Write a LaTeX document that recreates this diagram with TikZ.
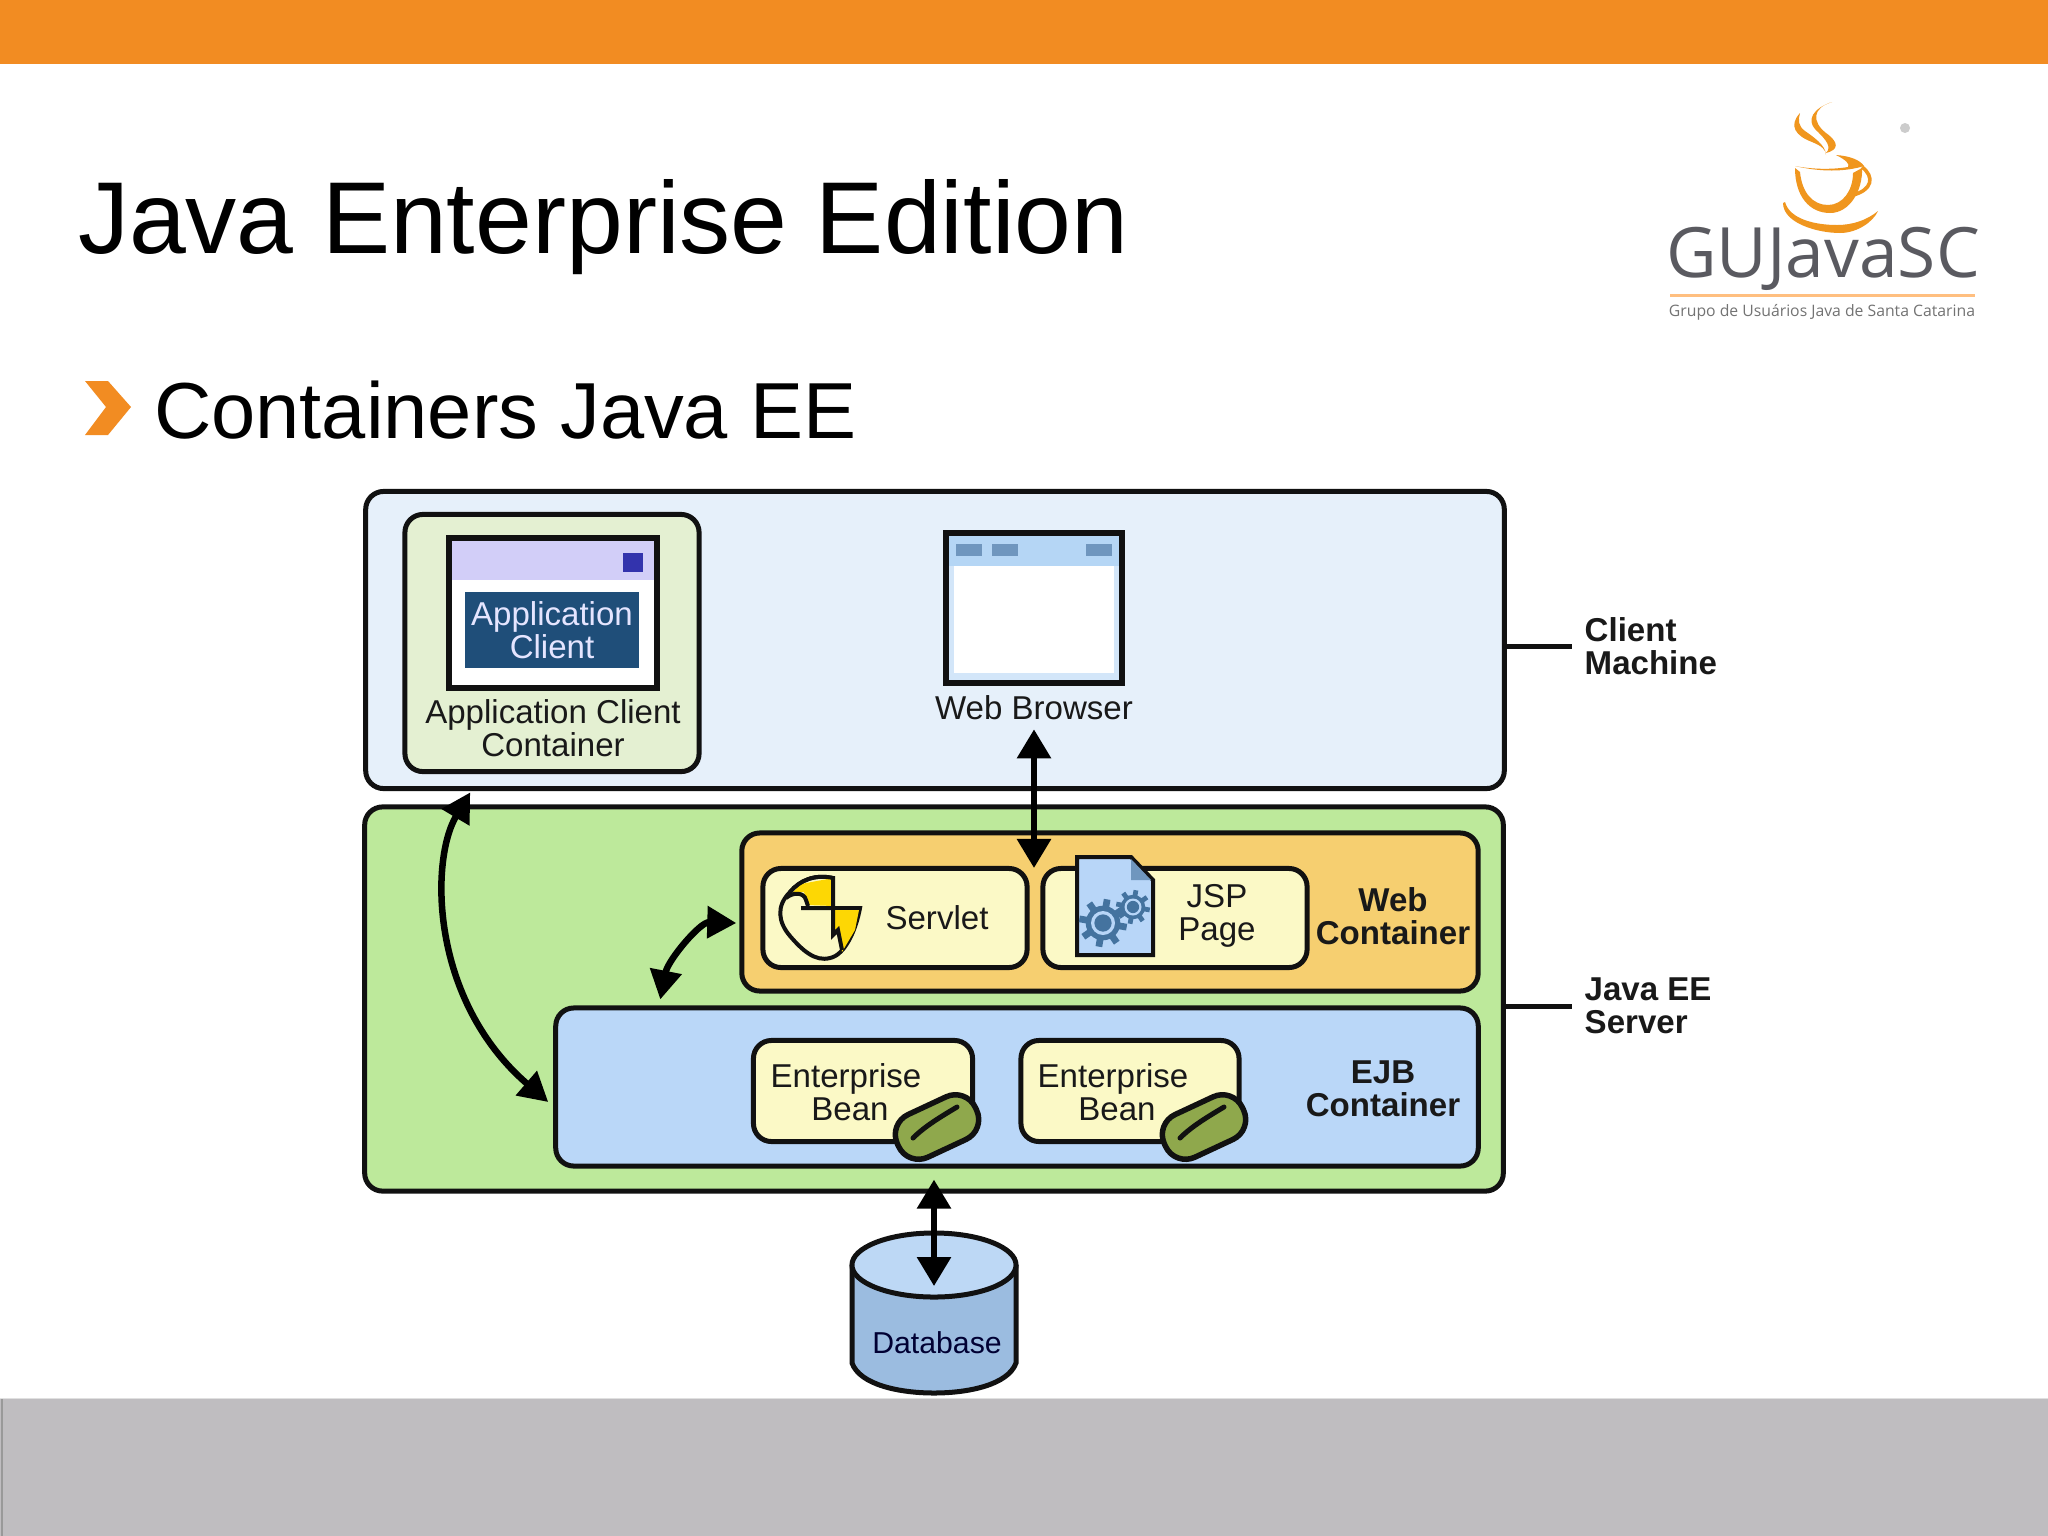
\documentclass[tikz,border=0pt]{standalone}
\usepackage{fontspec}
\setmainfont{Liberation Sans}
\newfontfamily\logofont{Open Sans}
\usetikzlibrary{arrows.meta,shapes.geometric}
\definecolor{orangebar}{HTML}{F28C22}
\definecolor{footgray}{HTML}{BFBDC0}
\definecolor{clientfill}{HTML}{E6F0FA}
\definecolor{acfill}{HTML}{E4F0D2}
\definecolor{eefill}{HTML}{BDE99B}
\definecolor{webfill}{HTML}{F6CF70}
\definecolor{creamfill}{HTML}{FBF9C6}
\definecolor{ejbfill}{HTML}{BAD7F8}
\definecolor{beanfill}{HTML}{8FA84C}
\definecolor{dbside}{HTML}{9BBCE0}
\definecolor{dbtop}{HTML}{BDD8F5}
\definecolor{lineblack}{HTML}{111111}
\definecolor{lilac}{HTML}{D2CEF8}
\definecolor{navy}{HTML}{1F4E79}
\definecolor{gearblue}{HTML}{44739F}
\definecolor{docfill}{HTML}{B8D6F8}
\definecolor{barblue}{HTML}{B5D6F5}
\definecolor{tabblue}{HTML}{6F96BE}
\definecolor{logogray}{HTML}{5A5A60}
\definecolor{cupor}{HTML}{F0961E}
\tikzset{
  x=0.01cm,y=-0.01cm,
  bx/.style={draw=lineblack,line width=0.05cm,rounded corners=0.18cm,inner sep=0pt},
  flat/.style={inner sep=0pt,outer sep=0pt},
  lbl/.style={font=\fontsize{9.4pt}{9.4pt}\selectfont,align=center,text=black!90,inner sep=0.03cm},
  blbl/.style={lbl,font=\fontsize{9.4pt}{9.4pt}\bfseries\selectfont},
  lead/.style={draw=lineblack,line width=0.05cm},
  dbl/.style={draw=black,line width=0.06cm,{Triangle[width=0.33cm,length=0.29cm]}-{Triangle[width=0.33cm,length=0.29cm]}},
  curv/.style={draw=black,line width=0.065cm,{Triangle[width=0.31cm,length=0.29cm]}-{Triangle[width=0.31cm,length=0.29cm]}},
  pill/.style={draw=lineblack,line width=0.055cm,fill=beanfill,rounded corners=0.22cm,minimum width=0.86cm,minimum height=0.47cm,rotate=25,inner sep=0pt},
}
\newcommand{\gearat}[3]{%
  \foreach \ga in {0,45,...,315}{
    \draw[gearblue,line width=#3*0.0028cm,shift={(#1,#2)}] (\ga+10:#3*0.6) -- (\ga+10:#3);
  }
  \fill[gearblue] (#1,#2) circle[radius=#3*0.72*0.01cm];
  \fill[docfill] (#1,#2) circle[radius=#3*0.5*0.01cm];
  \fill[gearblue] (#1,#2) circle[radius=#3*0.36*0.01cm];
}
\begin{document}
\begin{tikzpicture}
\useasboundingbox (0,0) rectangle (2048,1536);
\fill[white] (0,0) rectangle (2048,1536);
\fill[orangebar] (0,0) rectangle (2048,64);
\fill[footgray] (0,1399) rectangle (2048,1536);
\fill[black!40] (1,1399) rectangle (3,1536);
\fill[black!12] (0,1397.5) rectangle (2048,1399);
\node[flat,anchor=base west,font=\fontsize{29.05pt}{29pt}\selectfont,text=black] (title) at (78,253) {Java Enterprise Edition};
\fill[orangebar] (85,381) -- (108,381) -- (131,407) -- (108,435) -- (85,435) -- (106,407) -- cycle;
\node[flat,anchor=base west,font=\fontsize{22.6pt}{22.6pt}\selectfont,text=black] (sub) at (154,438) {Containers Java EE};
% logo
\fill[cupor] (1832,102) .. controls (1812,108) and (1812,122) .. (1826,133) .. controls (1840,143) and (1838,150) .. (1826,153) .. controls (1832,147) and (1826,140) .. (1818,132) .. controls (1804,120) and (1814,108) .. (1832,102) -- cycle;
\fill[cupor] (1800,113) .. controls (1788,126) and (1796,136) .. (1812,142) .. controls (1822,146) and (1826,150) .. (1826,155) .. controls (1826,145) and (1812,136) .. (1805,131) .. controls (1798,126) and (1798,120) .. (1800,113) -- cycle;
\fill[cupor] (1795,168) .. controls (1795,197) and (1810,213) .. (1830,213) .. controls (1850,213) and (1863,190) .. (1862,168) -- (1853,173) .. controls (1853,190) and (1843,205) .. (1828,205) .. controls (1813,205) and (1802,193) .. (1800,172) -- cycle;
\fill[cupor] (1795,166) .. controls (1820,172) and (1845,172) .. (1864,166) .. controls (1860,160) and (1850,156) .. (1836,155) .. controls (1846,160) and (1850,164) .. (1848,167) .. controls (1830,170) and (1810,169) .. (1795,166) -- cycle;
\draw[cupor,line width=0.036cm] (1862,167) .. controls (1875,177) and (1872,190) .. (1853,195);
\fill[cupor] (1783,203) .. controls (1783,223) and (1817,233) .. (1840,233) .. controls (1857,233) and (1873,222) .. (1878,211) .. controls (1867,220) and (1853,225) .. (1837,225) .. controls (1817,225) and (1790,220) .. (1785,202) -- cycle;
\fill[black!20] (1905,128) circle[radius=0.05cm];
\node[flat,font=\logofont\fontsize{19.75pt}{19.75pt}\selectfont,text=logogray,anchor=base] (logotxt) at (1823,277) {GUJavaSC};
\fill[orange!50!white] (1670,294) rectangle (1975,296.5);
\node[flat,font=\logofont\fontsize{4.48pt}{4.48pt}\selectfont,text=black!55,anchor=center] (logosub) at (1822,312) {Grupo de Usuários Java de Santa Catarina};
% client machine
\node[bx,fill=clientfill,minimum width=11.38cm,minimum height=2.97cm] (client) at (935,640) {};
\node[bx,fill=acfill,minimum width=2.94cm,minimum height=2.57cm] (acc) at (552,643) {};
\node[draw=lineblack,line width=0.06cm,fill=white,minimum width=2.07cm,minimum height=1.49cm,inner sep=0pt] (appwin) at (553,613) {};
\fill[lilac] (452,541) rectangle (654,580);
\fill[blue!60!black!80!white] (623,553) rectangle (643,572);
\node[flat,fill=navy,minimum width=1.73cm,minimum height=0.75cm,font=\fontsize{9.4pt}{9.4pt}\selectfont,align=center,text=blue!10!white] (appcl) at (552,630) {Application\\Client};
\node[lbl] (acclab) at (553,728) {Application Client\\Container};
\node[draw=lineblack,line width=0.06cm,fill=barblue!60!white,minimum width=1.76cm,minimum height=1.49cm,inner sep=0pt] (brow) at (1034,608) {};
\fill[white] (954,566) rectangle (1114,673);
\fill[barblue] (949,536) rectangle (1119,566);
\fill[tabblue] (956,544) rectangle (982,556);
\fill[tabblue] (992,544) rectangle (1018,556);
\fill[tabblue] (1086,544) rectangle (1112,556);
\node[lbl] (wb) at (1034,708) {Web Browser};
\node[blbl,align=left,anchor=west,inner sep=0pt] (cmlab) at (1584,646) {Client\\Machine};
% java ee server
\node[bx,fill=eefill,minimum width=11.38cm,minimum height=3.84cm] (ee) at (934,999) {};
\node[bx,fill=webfill,minimum width=7.36cm,minimum height=1.58cm] (web) at (1110,912) {};
\node[bx,fill=creamfill,minimum width=2.64cm,minimum height=0.99cm] (servlet) at (895,918) {};
\node[bx,fill=creamfill,minimum width=2.64cm,minimum height=0.99cm] (jsp) at (1175,918) {};
\node[bx,fill=ejbfill,minimum width=9.22cm,minimum height=1.58cm] (ejb) at (1017,1087) {};
\node[bx,fill=creamfill,minimum width=2.19cm,minimum height=1.01cm] (bean1) at (863,1091) {};
\node[bx,fill=creamfill,minimum width=2.18cm,minimum height=1.01cm] (bean2) at (1130,1091) {};
\node[pill] (pill1) at (937,1127) {};
\draw[lineblack,line width=0.05cm,line cap=round] (913,1138) .. controls (925,1126) and (942,1116) .. (957,1107);
\node[pill] (pill2) at (1204,1127) {};
\draw[lineblack,line width=0.05cm,line cap=round] (1180,1138) .. controls (1192,1126) and (1209,1116) .. (1224,1107);
\node[lbl] (b1t) at (846,1092) {Enterprise\\\hspace*{0.08cm}Bean};
\node[lbl] (b2t) at (1113,1092) {Enterprise\\\hspace*{0.08cm}Bean};
\node[blbl] (ejbt) at (1383,1089) {EJB\\Container};
\node[blbl] (webt) at (1393,916) {Web\\Container};
\node[lbl] (servt) at (937,918) {Servlet};
\node[lbl] (jspt) at (1217,915.5) {JSP\\Page};
\node[blbl,align=left,anchor=west,inner sep=0pt] (eelab) at (1584,1006) {Java EE\\Server};
% servlet icon
\draw[lineblack,line width=0.04cm,fill=creamfill] (833,878) .. controls (815,874) and (800,880) .. (790,892) .. controls (776,906) and (778,922) .. (790,936) .. controls (802,950) and (815,962) .. (830,958) .. controls (845,955) and (856,930) .. (860,908) -- (801,908);
\fill[yellow!75!orange] (801,884) -- (833,878) -- (833,906) -- (808,905) -- (804,892) -- (792,893) -- cycle;
\fill[yellow!75!orange] (835,910) -- (859,910) -- (855,930) -- (842,952) -- (840,935) -- (835,930) -- cycle;
\draw[lineblack,line width=0.04cm] (833,876) -- (833,935) -- (838,930) -- (842,950);
\draw[lineblack,line width=0.04cm] (801,908) -- (860,908);
\draw[lineblack,line width=0.04cm] (786,898) .. controls (793,892) and (804,892) .. (806,900) -- (808,906);
\draw[lineblack,line width=0.04cm] (833,878) .. controls (815,874) and (800,880) .. (790,892);
% jsp icon
\draw[lineblack,line width=0.04cm,fill=docfill] (1077,857) -- (1131,857) -- (1153,880) -- (1153,955) -- (1077,955) -- cycle;
\fill[tabblue] (1131,859) -- (1151,880) -- (1131,880) -- cycle;
\gearat{1103}{923}{24}
\gearat{1133}{907}{17}
% database
\node[flat,minimum width=1.64cm,minimum height=0.10cm] (db) at (934,1265) {};
\draw[lineblack,line width=0.05cm,fill=dbside] (852,1265) -- (852,1363) .. controls (860,1385) and (900,1393) .. (934,1393) .. controls (968,1393) and (1008,1385) .. (1016,1363) -- (1016,1265);
\draw[lineblack,line width=0.05cm,fill=dbtop] (934,1265) ellipse[x radius=0.82cm,y radius=0.32cm];
\node[lbl,text=black!80!blue,font=\fontsize{8.6pt}{8.6pt}\selectfont] (dbt) at (937,1343) {Database};
% connectors
\draw[lead,shorten >=0.12cm] (client.east |- cmlab.west) -- (cmlab.west);
\draw[lead,shorten >=0.12cm] (ee.east |- eelab.west) -- (eelab.west);
\draw[dbl,shorten <=0.055cm,shorten >=-0.02cm] (wb.south) -- (wb.south |- servlet.north);
\draw[dbl,shorten <=-0.14cm,shorten >=-0.26cm] (ee.south -| db) -- (db);
\draw[curv] ([shift={(1.08cm,0.12cm)}]ee.north west) .. controls (430,860) and (430,1000) .. ([shift={(-0.05cm,-0.15cm)}]ejb.west);
\draw[curv] ([shift={(-0.03cm,-0.11cm)}]web.west) .. controls (700,922) and (668,960) .. ([shift={(1.07cm,0.06cm)}]ejb.north west);
\end{tikzpicture}
\end{document}
